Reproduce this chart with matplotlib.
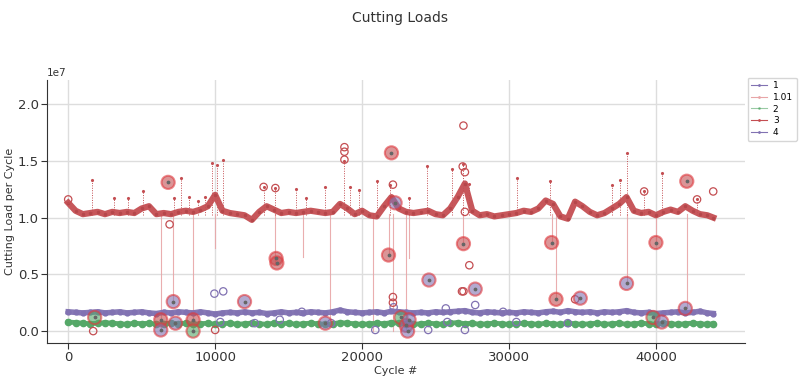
import numpy as np
import matplotlib.pyplot as plt
from matplotlib.lines import Line2D

# knots every 500 cycles, values read in units of 1e7
cycles = list(range(0, 44000, 500)) + [43900]

load_3 = [1.13, 1.06, 1.03, 1.04, 1.05, 1.03, 1.05, 1.04, 1.05, 1.04,
          1.08, 1.10, 1.03, 1.04, 1.03, 1.05, 1.06, 1.05, 1.07, 1.10,
          1.20, 1.06, 1.04, 1.03, 1.02, 0.98, 1.05, 1.10, 1.07, 1.04,
          1.05, 1.04, 1.05, 1.06, 1.05, 1.04, 1.05, 1.12, 1.08, 1.03,
          1.06, 1.02, 1.01, 1.10, 1.18, 1.08, 1.05, 1.04, 1.05, 1.06,
          1.03, 1.02, 1.08, 1.18, 1.30, 1.06, 1.02, 1.03, 1.01, 1.02,
          1.03, 1.04, 1.06, 1.05, 1.08, 1.15, 1.12, 1.01, 0.99, 1.14,
          1.10, 1.05, 1.02, 1.04, 1.08, 1.12, 1.18, 1.06, 1.04, 1.05,
          1.02, 1.05, 1.07, 1.05, 1.10, 1.06, 1.03, 1.02, 1.00]

load_1 = [0.170, 0.165, 0.160, 0.165, 0.170, 0.160, 0.165, 0.170, 0.160, 0.165,
          0.170, 0.160, 0.155, 0.165, 0.160, 0.170, 0.165, 0.160, 0.170, 0.160,
          0.150, 0.160, 0.165, 0.160, 0.170, 0.160, 0.165, 0.155, 0.160, 0.170,
          0.160, 0.165, 0.160, 0.170, 0.165, 0.160, 0.170, 0.185, 0.170, 0.165,
          0.160, 0.165, 0.170, 0.160, 0.175, 0.170, 0.165, 0.160, 0.165, 0.160,
          0.170, 0.165, 0.170, 0.175, 0.180, 0.165, 0.160, 0.170, 0.165, 0.160,
          0.165, 0.160, 0.170, 0.165, 0.160, 0.170, 0.175, 0.165, 0.180, 0.170,
          0.165, 0.170, 0.160, 0.170, 0.165, 0.170, 0.180, 0.165, 0.160, 0.165,
          0.155, 0.160, 0.165, 0.170, 0.160, 0.165, 0.175, 0.160, 0.155]

load_2 = [0.080, 0.075, 0.070, 0.065, 0.070, 0.075, 0.070, 0.065, 0.060, 0.070,
          0.065, 0.070, 0.060, 0.065, 0.070, 0.065, 0.070, 0.060, 0.065, 0.070,
          0.060, 0.065, 0.070, 0.060, 0.065, 0.070, 0.065, 0.060, 0.070, 0.065,
          0.070, 0.060, 0.065, 0.070, 0.065, 0.060, 0.065, 0.075, 0.070, 0.065,
          0.060, 0.065, 0.070, 0.065, 0.075, 0.070, 0.065, 0.060, 0.065, 0.070,
          0.065, 0.060, 0.070, 0.075, 0.065, 0.070, 0.060, 0.065, 0.070, 0.065,
          0.060, 0.065, 0.070, 0.065, 0.060, 0.070, 0.065, 0.060, 0.070, 0.065,
          0.060, 0.065, 0.070, 0.060, 0.065, 0.070, 0.060, 0.065, 0.070, 0.065,
          0.060, 0.070, 0.065, 0.060, 0.065, 0.070, 0.065, 0.060, 0.065]

# short upward bursts on series 3 (cycle, peak)
spike_cyc = [1600, 3100, 4100, 5100, 7200, 7650, 8200, 8800, 9300, 9800, 10100, 10550,
             13300, 14100, 15500, 16200, 17500, 18800, 19200, 19800, 21000, 21900,
             23200, 24400, 26100, 26900, 27300, 30550, 32800, 37000, 37550, 38000,
             39200, 40400, 42800]
spike_top = [1.33, 1.17, 1.17, 1.23, 1.17, 1.35, 1.18, 1.15, 1.18, 1.48, 1.46, 1.51,
             1.27, 1.26, 1.25, 1.17, 1.27, 1.50, 1.27, 1.24, 1.32, 1.29,
             1.17, 1.45, 1.43, 1.47, 1.30, 1.35, 1.32, 1.29, 1.33, 1.57,
             1.23, 1.39, 1.16]

# series 1.01: drop lines from series 3 down to low readings
drop_cyc = [6300, 7100, 8500, 10000, 14100, 16000, 17800, 20750, 21800, 22100,
            23000, 23200, 26900, 32900, 33200, 38000, 40000, 42100]
drop_low = [0.00, 0.25, 0.00, 0.73, 0.60, 0.65, 0.05, 0.00, 0.67, 0.00,
            0.00, 0.64, 0.77, 0.78, 0.28, 0.42, 0.78, 0.20]

# flagged readings (large circles): cycle, value, fill
flag_cyc = [1800, 6300, 6300, 6800, 7150, 7300, 8500, 8500, 12000, 14150, 14200,
            17500, 21800, 22000, 22250, 22650, 23000, 23100, 23200, 24550,
            26900, 27700, 32900, 33200, 34850, 38000, 39800, 40000, 40400,
            42000, 42100]
flag_val = [0.12, 0.10, 0.01, 1.31, 0.26, 0.07, 0.10, 0.00, 0.26, 0.64, 0.60,
            0.07, 0.67, 1.57, 1.13, 0.12, 0.05, 0.00, 0.10, 0.45,
            0.77, 0.37, 0.78, 0.28, 0.29, 0.42, 0.12, 0.78, 0.08,
            0.20, 1.32]
flag_fill = ['g', 'r', 'p', 'r', 'p', 'p', 'r', 'g', 'p', 'r', 'r',
             'p', 'r', 'r', 'p', 'g', 'p', 'p', 'p', 'p',
             'r', 'p', 'r', 'r', 'p', 'p', 'g', 'r', 'p',
             'p', 'r']

# series 4: isolated readings (hollow circles)
hollow_p_cyc = [9950, 10550, 10350, 12700, 14400, 15900, 17900, 20900, 22150, 24500,
                25700, 25800, 27000, 27700, 29600, 30500, 34000]
hollow_p_val = [0.33, 0.35, 0.08, 0.07, 0.10, 0.17, 0.07, 0.01, 0.21, 0.01,
                0.20, 0.08, 0.01, 0.23, 0.17, 0.08, 0.07]
hollow_r_cyc = [0, 1700, 10000, 18800, 18800, 18800, 22100, 22100, 26900, 26900, 26800,
                26850, 27000, 27300, 34500, 39200, 42800, 43900, 13300, 14100, 6900,
                22100, 27000]
hollow_r_val = [1.16, 0.00, 0.01, 1.62, 1.58, 1.51, 0.30, 0.25, 1.81, 0.35, 0.35,
                1.45, 1.40, 0.58, 0.28, 1.23, 1.16, 1.23, 1.27, 1.26, 0.94,
                1.29, 1.05]

red = '#C44E52'
purple = '#8172B2'
green = '#55A868'
pink = '#E8A5A7'
fill_map = {'r': red, 'p': purple, 'g': green}

fig = plt.figure(figsize=(8, 3.8), dpi=100)
ax = fig.add_axes([0.059, 0.097, 0.872, 0.692])

x = np.array(cycles)
s = 1e7

for c, lo in zip(drop_cyc, drop_low):
    ax.plot([c, c], [lo * s, 1.03 * s], color=pink, lw=0.8, alpha=0.9, zorder=1)

for c, top in zip(spike_cyc, spike_top):
    ax.plot([c, c], [1.02 * s, top * s], color=red, lw=0.7, ls=(0, (1, 1.5)),
            marker='.', markevery=[1], ms=2.5, zorder=2)

ax.plot(x, np.array(load_3) * s, color=red, lw=4.5, alpha=0.95, zorder=3)
ax.plot(x, np.array(load_3) * s, color='#B5474B', lw=0, marker='.', ms=3, zorder=3)

ax.plot(x, np.array(load_1) * s, color=purple, lw=4, alpha=0.95, zorder=3)
ax.plot(x, np.array(load_1) * s, color=purple, lw=0, marker='o', ms=3.5, zorder=3)

ax.plot(x, np.array(load_2) * s, color=green, lw=3.5, alpha=0.95, zorder=3)
ax.plot(x, np.array(load_2) * s, color=green, lw=0, marker='o', ms=4.5, zorder=3)

ax.scatter(hollow_p_cyc, np.array(hollow_p_val) * s, s=28, facecolors='none',
           edgecolors=purple, linewidths=0.9, zorder=4)
ax.scatter(hollow_r_cyc, np.array(hollow_r_val) * s, s=28, facecolors='none',
           edgecolors=red, linewidths=0.9, zorder=4)
ax.scatter(flag_cyc, np.array(flag_val) * s, s=90,
           c=[fill_map[f] for f in flag_fill], alpha=0.6,
           edgecolors='#E0393E', linewidths=1.5, zorder=5)
ax.scatter(flag_cyc, np.array(flag_val) * s, s=3, c='#666666', zorder=6)

ax.set_xlim(-1430, 46050)
ax.set_ylim(-0.106e7, 2.21e7)
ax.set_yticks([0, 0.5e7, 1.0e7, 1.5e7, 2.0e7])
ax.set_xticks([0, 10000, 20000, 30000, 40000])
ax.grid(True, color='#dddddd', lw=1)
ax.set_axisbelow(True)
for side in ['top', 'right']:
    ax.spines[side].set_visible(False)
for side in ['left', 'bottom']:
    ax.spines[side].set_color('#333333')
ax.tick_params(direction='out', length=4, pad=2, labelsize=9.5, colors='#333333')
ax.yaxis.get_offset_text().set_fontsize(7.5)
ax.set_xlabel('Cycle #', fontsize=8, color='#333333', labelpad=1)
ax.set_ylabel('Cutting Load per Cycle', fontsize=8, color='#333333', labelpad=2)
fig.suptitle('Cutting Loads', fontsize=10, color='#333333', y=0.97)

handles = [Line2D([], [], color=purple, lw=0.8, marker='.', ms=2),
           Line2D([], [], color=pink, lw=0.8, marker='.', ms=2),
           Line2D([], [], color=green, lw=0.8, marker='.', ms=2, alpha=0.6),
           Line2D([], [], color=red, lw=0.8, marker='.', ms=2),
           Line2D([], [], color=purple, lw=0.8, marker='.', ms=2)]
ax.legend(handles, ['1', '1.01', '2', '3', '4'], loc='upper left',
          bbox_to_anchor=(1.0, 1.02), fontsize=6.5, handlelength=1.8,
          handletextpad=0.6, borderpad=0.4, labelspacing=0.3, borderaxespad=0.3,
          frameon=True)

fig.savefig('out.png', dpi=100)
